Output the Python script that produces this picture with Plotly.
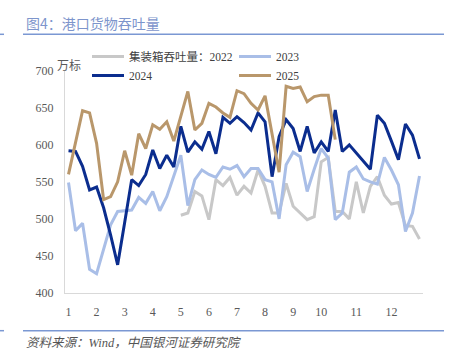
import plotly.graph_objects as go

# week index (1..51) and month tick labels
weeks = list(range(1, 52))
month_tick_weeks = [1, 5, 9, 13, 17, 21, 25, 29, 33, 37, 42, 47]
month_tick_labels = ["1", "2", "3", "4", "5", "6", "7", "8", "9", "10", "11", "12"]

# 集装箱吞吐量 (万标)
v2022 = [None] * 16 + [505, 508, 537, 531, 499, 553, 545, 556, 532, 544, 535, 566, 544, 508,
                       508, 548, 517, 508, 499, 503, 577, 583, 510, 510, 500, 550, 508, 544,
                       557, 532, 520, 522, 491, 490, 473]
v2023 = [549, 484, 494, 432, 426, 458, 492, 510, 511, 512, 529, 521, 537, 511, 530, 557,
         586, 518, 553, 566, 560, 556, 570, 567, 572, 557, 568, 568, 553, 550, 500, 573,
         590, 584, 537, 567, 595, 582, 499, 508, 563, 570, 554, 550, 547, 583, 566, 546,
         483, 508, 558]
v2024 = [592, 591, 571, 539, 543, 515, 478, 438, 495, 553, 545, 560, 593, 568, 586, 570,
         625, 590, 604, 594, 618, 588, 637, 629, 638, 630, 620, 643, 631, 557, 611, 634,
         622, 591, 625, 589, 604, 591, 647, 591, 600, 589, 578, 567, 640, 629, 605, 580,
         628, 613, 581]
v2025 = [560, 603, 646, 643, 602, 526, 530, 550, 592, 559, 615, 595, 627, 621, 631, 605,
         640, 672, 620, 629, 656, 651, 643, 637, 673, 669, 656, 647, 666, 616, 563, 679,
         676, 678, 658, 665, 667, 667, 607]

series = [
    ("集装箱吞吐量：2022", v2022, "#c8c8c8", "legend"),
    ("2023", v2023, "#a9bee7", "legend2"),
    ("2024", v2024, "#0b2d8e", "legend"),
    ("2025", v2025, "#b9976b", "legend2"),
]

fig = go.Figure()
for name, vals, color, lg in series:
    fig.add_trace(go.Scatter(
        x=weeks[:len(vals)], y=vals, mode="lines", name=name,
        line=dict(color=color, width=3), legend=lg, connectgaps=False,
    ))

# geometry (pixels): paper area from x=65..423, y=30..293
L, R, T, B = 65.0, 33.0, 30.0, 67.0
PW = 456 - L - R
PH = 360 - T - B
PLOT_TOP = 70.7


def px(xp):
    return (xp - L) / PW


def py(yp):
    return (360 - B - yp) / PH


tick_font = dict(family="Liberation Serif, Noto Sans CJK SC", size=12, color="#595959")
leg_font = dict(family="Liberation Serif, Noto Sans CJK SC", size=11.5, color="#404040")

fig.update_layout(
    width=456, height=360,
    margin=dict(l=L, r=R, t=T, b=B),
    paper_bgcolor="white", plot_bgcolor="white",
    xaxis=dict(range=[0.5, 51.5], tickmode="array", tickvals=month_tick_weeks,
               ticktext=month_tick_labels, showgrid=False, zeroline=False,
               showline=True, linecolor="#d9d9d9", linewidth=1, ticks="",
               tickfont=tick_font, fixedrange=True, ticklabelstandoff=8),
    yaxis=dict(range=[400, 700], domain=[0, py(PLOT_TOP)], tickmode="array",
               tickvals=[400, 450, 500, 550, 600, 650, 700],
               showgrid=False, zeroline=False, showline=True, linecolor="#d9d9d9",
               linewidth=1, ticks="", tickfont=tick_font, fixedrange=True,
               ticklabelstandoff=8),
    legend=dict(x=px(87), y=py(42), xanchor="left", yanchor="top", orientation="v",
                font=leg_font, bgcolor="rgba(0,0,0,0)", tracegroupgap=0, itemwidth=32),
    legend2=dict(x=px(234), y=py(42), xanchor="left", yanchor="top", orientation="v",
                 font=leg_font, bgcolor="rgba(0,0,0,0)", tracegroupgap=0, itemwidth=32),
    showlegend=True,
)

fig.add_annotation(xref="paper", yref="paper", x=px(69), y=py(64), text="万标",
                   showarrow=False, font=dict(family="Noto Sans CJK SC", size=12, color="#595959"),
                   xanchor="center", yanchor="middle")
fig.add_annotation(xref="paper", yref="paper", x=px(24), y=py(22.5),
                   text="图4：港口货物吞吐量", showarrow=False,
                   font=dict(family="Noto Sans CJK SC", size=14, color="#7d95cc"),
                   xanchor="left", yanchor="middle")
fig.add_annotation(xref="paper", yref="paper", x=px(24), y=py(343),
                   text="<i>资料来源：Wind，中国银河证券研究院</i>", showarrow=False,
                   font=dict(family="Liberation Serif, Noto Sans CJK SC", size=12.5, color="#555555"),
                   xanchor="left", yanchor="middle")
for yy in [34.3, 330.7]:
    fig.add_shape(type="line", xref="paper", yref="paper",
                  x0=px(23), x1=px(444), y0=py(yy), y1=py(yy),
                  line=dict(color="#7b98d3", width=1.5))
    fig.add_shape(type="line", xref="paper", yref="paper",
                  x0=px(0), x1=px(4), y0=py(yy), y1=py(yy),
                  line=dict(color="#7b98d3", width=1.5))

fig.write_html("out.html", config={"displayModeBar": False},
               post_script="document.body.style.margin='0';")
